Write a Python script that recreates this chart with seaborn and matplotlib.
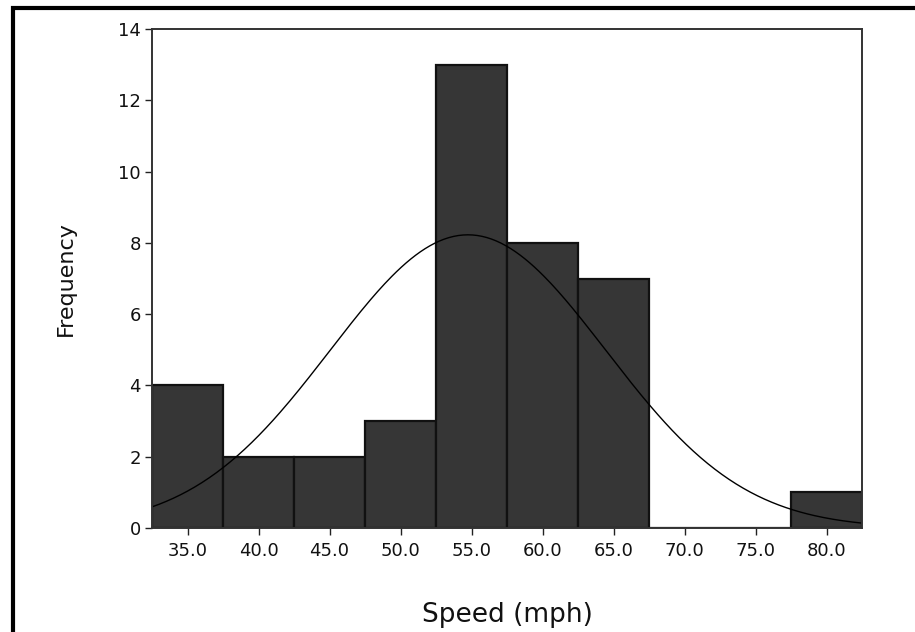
import numpy as np
import pandas as pd
import matplotlib
matplotlib.use("Agg")
import matplotlib.pyplot as plt
from matplotlib.patches import Rectangle
import seaborn as sns

# Speed bins (midpoints, mph) and their counts
bin_centers = [35.0, 40.0, 45.0, 50.0, 55.0, 60.0, 65.0, 70.0, 75.0, 80.0]
frequencies = [4, 2, 2, 3, 13, 8, 7, 0, 0, 1]
bin_width = 5.0

# Fitted normal curve parameters
fit_mean = 54.75
fit_sd = 9.7

x_tick_labels = ["35.0", "40.0", "45.0", "50.0", "55.0", "60.0", "65.0", "70.0", "75.0", "80.0"]
y_ticks = [0, 2, 4, 6, 8, 10, 12, 14]

sns.set_theme(style="white")
plt.rcParams["font.family"] = ["DejaVu Sans"]

df = pd.DataFrame({"speed": bin_centers, "count": frequencies})
edges = [c - bin_width / 2 for c in bin_centers] + [bin_centers[-1] + bin_width / 2]

fig = plt.figure(figsize=(9.15, 6.32), dpi=100)
ax = fig.add_axes([152 / 915, 1 - 528 / 632, (862 - 152) / 915, (528 - 29) / 632])

sns.histplot(data=df, x="speed", weights="count", bins=edges, ax=ax,
             color="#363636", edgecolor="#111111", linewidth=1.6, alpha=1.0)

# Normal curve scaled to counts
n_total = sum(frequencies)
xs = np.linspace(edges[0], edges[-1], 300)
ys = n_total * bin_width / (fit_sd * np.sqrt(2 * np.pi)) * np.exp(-0.5 * ((xs - fit_mean) / fit_sd) ** 2)
sns.lineplot(x=xs, y=ys, ax=ax, color="black", linewidth=1.0)

ax.set_xlim(edges[0], edges[-1])
ax.set_ylim(0, 14)
ax.set_xticks(bin_centers)
ax.set_xticklabels(x_tick_labels)
ax.set_yticks(y_ticks)
ax.tick_params(axis="both", direction="out", length=5, width=1, color="#222222",
               labelsize=13, labelcolor="#111111", pad=3, left=True, bottom=True)
ax.tick_params(axis="x", pad=5)
for s in ax.spines.values():
    s.set_color("#333333")
    s.set_linewidth(1.4)
ax.set_facecolor("white")

ax.set_xlabel("Speed (mph)", fontsize=19, color="#111111", labelpad=30)
ax.set_ylabel("Frequency", fontsize=16, color="#111111", labelpad=30)

# Thick frame around the chart
fig.patches.append(Rectangle((13 / 915, -0.2), 1.5, 1 - 7.5 / 632 + 0.2,
                             transform=fig.transFigure, fill=False,
                             edgecolor="black", linewidth=3.0))

fig.savefig("out.png", dpi=100, facecolor="white")
